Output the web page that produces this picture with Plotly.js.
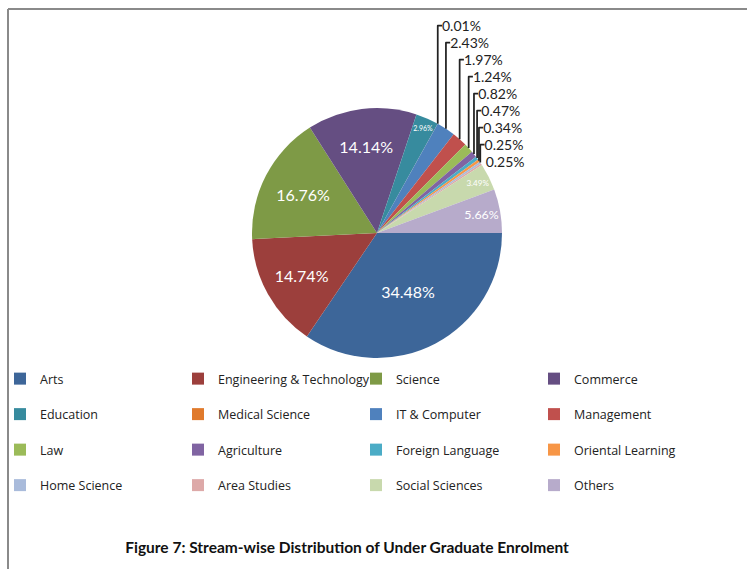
<!DOCTYPE html>
<html>
<head>
<meta charset="utf-8">
<script src="https://cdn.plot.ly/plotly-3.0.1.min.js"></script>
<style>
  html, body { margin: 0; padding: 0; background: #fff; }
  #chart { width: 747px; height: 569px; }
</style>
</head>
<body>
<div id="chart"></div>
<script>
// ---- data ----
const streams = [
  "Arts", "Engineering & Technology", "Science", "Commerce",
  "Education", "Medical Science", "IT & Computer", "Management",
  "Law", "Agriculture", "Foreign Language", "Oriental Learning",
  "Home Science", "Area Studies", "Social Sciences", "Others"
];
const sharePct = [
  34.48, 14.74, 16.76, 14.14,
  2.96, 0.01, 2.43, 1.97,
  1.24, 0.82, 0.47, 0.34,
  0.25, 0.25, 3.49, 5.66
];
const sliceColors = [
  "#3D6699", "#9C3F3C", "#7E9A46", "#654E82",
  "#378B9E", "#E07A2C", "#4F81BD", "#C0504D",
  "#9BBB59", "#8064A2", "#4BACC6", "#F79646",
  "#A9BBDB", "#DDA9A8", "#C8D9AD", "#B7ABCB"
];
const figTitle = "Figure 7: Stream-wise Distribution of Under Graduate Enrolment";

// ---- chart ----
const W = 747, H = 569;
const FONT = "Lato, 'Open Sans', sans-serif";
const LEGFONT = "'Open Sans', Lato, sans-serif";
const cx = 377, cy = 233, R = 125;

const trace = {
  type: "pie",
  labels: streams.map(s => s + "<br> "),
  values: sharePct,
  sort: false,
  direction: "clockwise",
  rotation: 90,
  marker: { colors: sliceColors, line: { width: 0 } },
  texttemplate: "%{value:.2f}%",
  textposition: sharePct.map(v => v > 2.5 ? "inside" : "outside"),
  insidetextorientation: "horizontal",
  insidetextfont: { family: FONT, size: 16, color: "#ffffff" },
  outsidetextfont: { family: FONT, size: 14, color: "#222222" },
  hoverinfo: "label+percent",
  domain: {
    x: [(cx - R) / W, (cx + R) / W],
    y: [1 - (cy + R) / H, 1 - (cy - R) / H]
  },
  automargin: false
};

const layout = {
  width: W,
  height: H,
  margin: { l: 0, r: 0, t: 0, b: 0 },
  paper_bgcolor: "#ffffff",
  font: { family: FONT, color: "#222222" },
  showlegend: true,
  legend: {
    orientation: "h",
    x: 0,
    y: 1 - 364 / H,
    xanchor: "left",
    yanchor: "top",
    bgcolor: "rgba(0,0,0,0)",
    entrywidth: 133,
    entrywidthmode: "pixels",
    valign: "top",
    font: { family: LEGFONT, size: 12.5, color: "#222222" },
    itemwidth: 30,
    traceorder: "normal"
  },
  title: {
    text: "<b>" + figTitle + "</b>",
    x: 347 / W,
    xanchor: "center",
    xref: "paper",
    y: 1 - 548 / H,
    yref: "container",
    yanchor: "middle",
    font: { family: FONT, size: 15.5, color: "#111111" }
  },
  shapes: [
    { type: "line", xref: "paper", yref: "paper", layer: "above",
      x0: 8 / W, x1: 1.0, y0: 1 - 9 / H, y1: 1 - 9 / H,
      line: { color: "#8a8a8a", width: 2 } },
    { type: "line", xref: "paper", yref: "paper", layer: "above",
      x0: 8 / W, x1: 8 / W, y0: 1 - 9 / H, y1: 0,
      line: { color: "#8a8a8a", width: 2 } }
  ]
};

Plotly.newPlot("chart", [trace], layout, { displayModeBar: false, staticPlot: true });
</script>
</body>
</html>
